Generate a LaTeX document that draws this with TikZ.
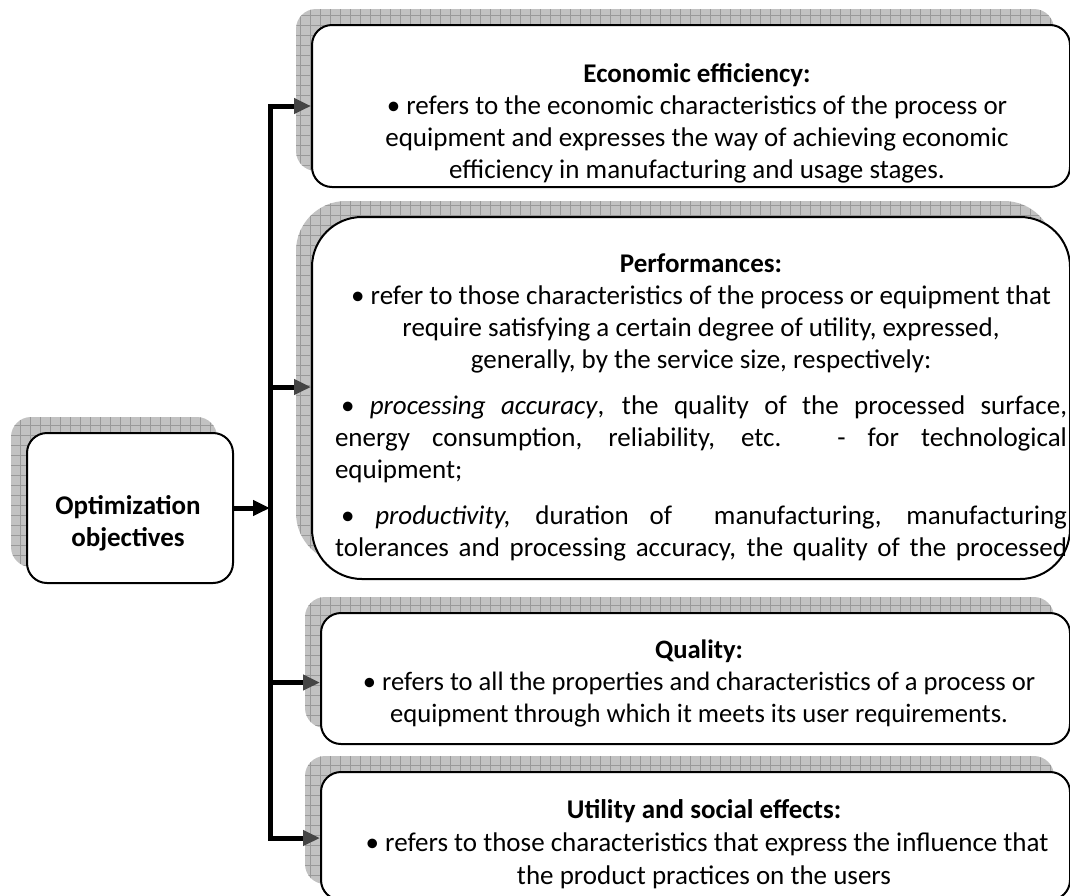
\documentclass[tikz,border=0pt]{standalone}
\usepackage{fontspec}
\setmainfont{Carlito}
\usetikzlibrary{arrows.meta, shadows, patterns.meta}

\definecolor{shadowgray}{gray}{0.76}
\definecolor{gridgray}{gray}{0.6}
\definecolor{tipgray}{gray}{0.27}

\tikzstyle{box} = [draw=black, line width=1pt, fill=white, rounded corners=10pt, inner sep=0pt,
  general shadow={shadow xshift=-8pt, shadow yshift=8pt, fill=shadowgray},
  general shadow={shadow xshift=-8pt, shadow yshift=8pt,
    pattern={Hatch[distance=5pt, angle=0, line width=.35pt]}, pattern color=gridgray}]
\tikzstyle{txt} = [font=\fontsize{13.5}{16}\selectfont, inner sep=0pt, align=center]
\tikzstyle{feed} = [line width=2.5pt, -{Triangle[length=8.5pt, width=7.5pt]}]
\tikzstyle{link} = [line width=2.5pt, -{Triangle[length=8.5pt, width=7.5pt, color=tipgray]}]

\begin{document}
\begin{tikzpicture}[x=0.5pt, y=-0.5pt]
\useasboundingbox (0,0) rectangle (1070,895);
\clip (0,0) rectangle (1070,895);

% boxes
\node at (130, 508) (obj) [box, minimum width=103pt, minimum height=75pt] {};
\node at (691, 106) (econ) [box, minimum width=379pt, minimum height=81pt] {};
\node at (691, 398) (perf) [box, rounded corners=25pt, minimum width=379pt, minimum height=181pt] {};
\node at (695.5, 678.5) (qual) [box, minimum width=374.5pt, minimum height=65.5pt] {};
\node at (695.5, 836) (util) [box, minimum width=374.5pt, minimum height=64pt] {};

% texts
\node at (128, 523) (objtxt) [txt] {\textbf{Optimization}\\ \textbf{objectives}};
\node at (697, 63) (econtxt) [txt, anchor=north] {\textbf{Economic efficiency:}\\
  \textbullet{} refers to the economic characteristics of the process or\\
  equipment and expresses the way of achieving economic\\
  efficiency in manufacturing and usage stages.};
\node at (701, 253) (perftxt) [txt, anchor=north, text width=366pt, align=justify] {%
  \parindent=0pt \parskip=7pt
  {\centering\textbf{Performances:}\\
  \textbullet{} refer to those characteristics of the process or equipment that\\
  require satisfying a certain degree of utility, expressed,\\
  generally, by the service size, respectively:\par}
  \hspace*{3pt}\textbullet{} \textit{processing accuracy}, the quality of the processed surface,\linebreak
  energy consumption, reliability, etc. - for technological\linebreak
  equipment;\par
  {\parfillskip=0pt \hspace*{3pt}\textbullet{} \textit{productivity,} duration of\ \ manufacturing, manufacturing\linebreak
  tolerances and processing accuracy, the quality of the processed\par}};
\node at (699, 639) (qualtxt) [txt, anchor=north, font=\fontsize{13.3}{16}\selectfont] {\textbf{Quality:}\\
  \textbullet{} refers to all the properties and characteristics of a process or\\
  equipment through which it meets its user requirements.};
\node at (704, 799) (utiltxt) [txt, anchor=north, font=\fontsize{13.5}{16.5}\selectfont] {\textbf{Utility and social effects:}\\
  \ \textbullet{} refers to those characteristics that express the influence that\\
  the product practices on the users};

% connectors
\coordinate (trunk) at (270, 508);
\draw[feed] (obj.east) -- (obj.east -| trunk);
\draw[link] (trunk) |- (econ.west);
\draw[link] (trunk) |- ([yshift=5.5pt]perf.west);
\draw[link] (trunk) |- ([yshift=-2pt]qual.west);
\draw[link] (trunk) |- ([yshift=-1pt]util.west);

\end{tikzpicture}
\end{document}
